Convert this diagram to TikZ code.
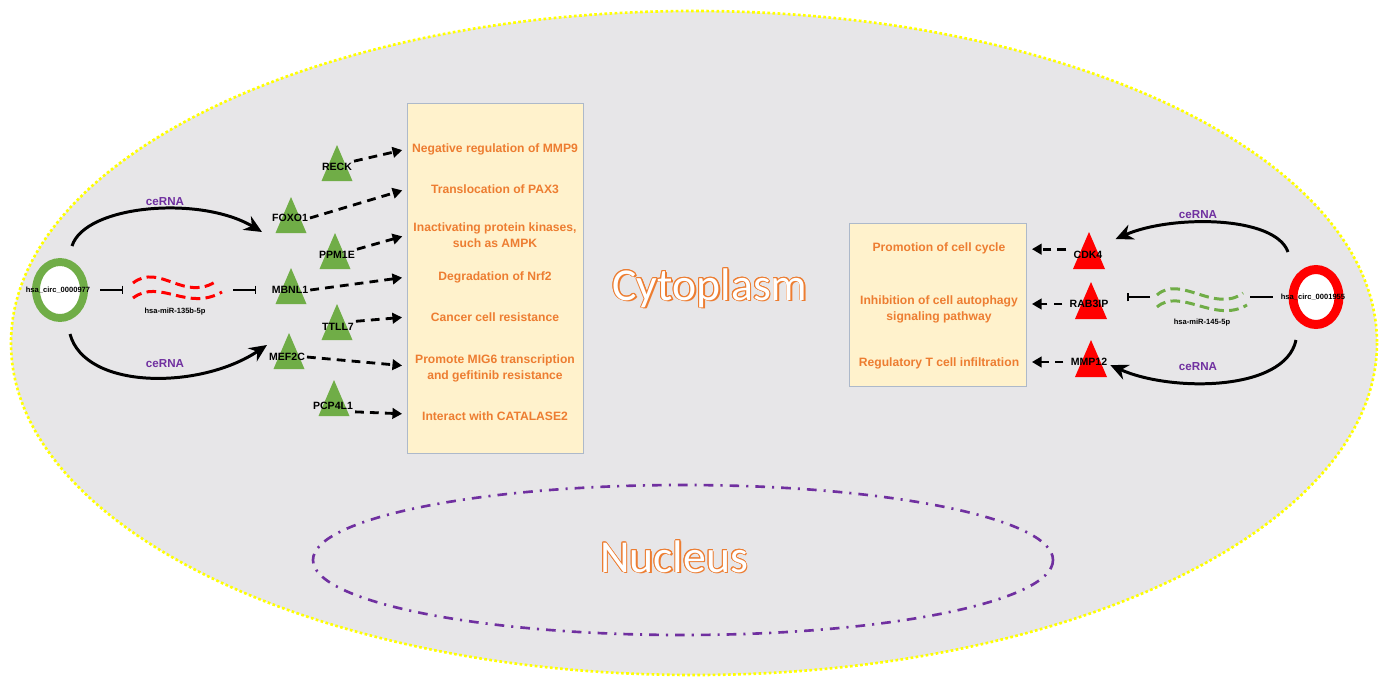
\documentclass[tikz,border=0pt]{standalone}
\usepackage{fontspec}
\setmainfont{Liberation Sans}
\newfontfamily\calibrifont{Carlito}
\usetikzlibrary{arrows.meta, calc, shapes.geometric}

\definecolor{cellgray}{HTML}{E7E6E8}
\definecolor{walldot}{HTML}{FFFF00}
\definecolor{nucviolet}{HTML}{7030A0}
\definecolor{boxfill}{HTML}{FFF2CC}
\definecolor{boxedge}{HTML}{ADB9CA}
\definecolor{fnorange}{HTML}{ED7D31}
\definecolor{genegreen}{HTML}{70AD47}
\definecolor{genered}{HTML}{FF0000}

\tikzset{
  gene/.style={font=\fontsize{6}{7}\selectfont\bfseries, inner sep=1pt},
  tinylbl/.style={font=\fontsize{4.3}{5}\selectfont\bfseries, inner sep=1pt},
  fn/.style={text=fnorange, font=\fontsize{6.9}{9}\selectfont\bfseries, align=center},
  fnbox/.style={draw=boxedge, fill=boxfill, line width=0.6pt, inner sep=0pt},
  fx/.style={line width=1.6pt, dash pattern=on 5pt off 3.5pt, -{Triangle[length=5.5pt,width=6pt]}},
  cerna/.style={text=nucviolet, font=\fontsize{6.6}{8}\selectfont\bfseries},
  link/.style={line width=1.7pt, -{Stealth[length=10pt,width=9pt]}},
  inhib/.style={line width=0.6pt, -{Bar[width=5pt]}},
  mirna/.style={line width=1.7pt, dash pattern=on 5.5pt off 3pt},
  ring/.style={ellipse, fill=white, inner sep=0pt},
  biglbl/.style={font=\calibrifont\fontsize{26}{30}\selectfont, anchor=base, inner sep=0pt}
}

\begin{document}
\begin{tikzpicture}[x=0.02cm, y=-0.02cm]
\useasboundingbox (0,0) rectangle (1384,677);

% cell and nucleus
\fill[cellgray] (694,343) ellipse [x radius=683, y radius=332];
\draw[walldot, line width=1.5pt, dash pattern=on 1.5pt off 1.4pt] (694,343) ellipse [x radius=683, y radius=332];
\draw[nucviolet, line width=1.5pt, dash pattern=on 5.5pt off 4pt on 1.2pt off 4pt] (683,560) ellipse [x radius=370, y radius=75];

% big labels
\foreach \a in {0,30,...,330} {
  \node[biglbl, text=fnorange] at ($(710,300)+(\a:0.9)$) {Cytoplasm};
  \node[biglbl, text=fnorange] at ($(674,572)+(\a:0.9)$) {Nucleus};
}
\node[biglbl, text=fnorange] at (711.5,301.5) {Cytoplasm};
\node[biglbl, text=fnorange] at (675.5,573.5) {Nucleus};
\node[biglbl, text=white] (cyto) at (710,300) {Cytoplasm};
\node[biglbl, text=white] (nucl) at (674,572) {Nucleus};

% function boxes
\node[fnbox, anchor=north west, minimum width=3.52cm, minimum height=7cm] (lbox) at (407,103) {};
\node[fnbox, anchor=north west, minimum width=3.54cm, minimum height=3.26cm] (rbox) at (849,223) {};

\node[fn] (f1) at (495,149) {Negative regulation of MMP9};
\node[fn] (f2) at (495,189) {Translocation of PAX3};
\node[fn] (f3) at (495,235) {Inactivating protein kinases,\\ such as AMPK};
\node[fn] (f4) at (495,277) {Degradation of Nrf2};
\node[fn] (f5) at (495,317) {Cancer cell resistance};
\node[fn] (f6) at (495,368) {Promote MIG6 transcription\\ and gefitinib resistance};
\node[fn] (f7) at (495,416) {Interact with CATALASE2};

\node[fn] (g1) at (939,248) {Promotion of cell cycle};
\node[fn] (g2) at (939,309) {Inhibition of cell autophagy\\ signaling pathway};
\node[fn] (g3) at (939,363) {Regulatory T cell infiltration};

% target genes
\foreach \nm/\lbl/\ax/\ay/\lx/\ly in {reck/RECK/337/145/337/167, foxo1/FOXO1/291/197/290/218,
    ppm1e/PPM1E/335/233/337/255, mbnl1/MBNL1/291/268/290/290, ttll7/TTLL7/337/304/338/327,
    mef2c/MEF2C/289/333/287/357, pcp4l1/PCP4L1/334/380/333/406} {
  \fill[genegreen] (\ax,\ay) -- ++(-15.5,36) -- ++(31,0) -- cycle;
  \node[gene] (\nm) at (\lx,\ly) {\lbl};
}
\foreach \nm/\lbl/\ax/\ay/\lx/\ly in {cdk4/CDK4/1089/232/1088/255,
    rab3ip/RAB3IP/1091/282/1089/304, mmp12/MMP12/1091/340/1089/362} {
  \fill[genered] (\ax,\ay) -- ++(-16,37) -- ++(32,0) -- cycle;
  \node[gene] (\nm) at (\lx,\ly) {\lbl};
}

% circRNAs
\node[ring, draw=genegreen, line width=4.5pt, minimum width=0.96cm, minimum height=1.12cm] (circL) at (60,290) {};
\node[tinylbl] (circLlab) at (58,290) {hsa\_circ\_0000977};
\node[ring, draw=genered, line width=5.1pt, minimum width=0.92cm, minimum height=1.1cm] (circR) at (1316,297) {};
\node[tinylbl] (circRlab) at (1313,297) {hsa\_circ\_0001955};

% miRNAs
\draw[genered, mirna] (133,283) .. controls (160,262) and (185,304) .. (218,280);
\draw[genered, mirna] (133,298) .. controls (160,278) and (187,312) .. (222,292);
\node[tinylbl] (mirL) at (175,312) {hsa-miR-135b-5p};
\draw[genegreen, mirna] (1157,295) .. controls (1180,274) and (1215,314) .. (1243,293);
\draw[genegreen, mirna] (1157,307) .. controls (1180,287) and (1215,324) .. (1247,305);
\node[tinylbl] (mirR) at (1202,323) {hsa-miR-145-5p};

\coordinate (wL1) at (123,290);
\coordinate (wL2) at (233,290);
\coordinate (wR1) at (1150,297);
\coordinate (wR2) at (1250,297);
\draw[inhib, shorten <=4.5pt] (circLlab.east) -- (wL1);
\draw[inhib, shorten >=7.9pt] (wL2) -- (mbnl1.west);
\draw[inhib, shorten >=9.7pt] (wR1) -- (rab3ip.east |- wR1);
\draw[line width=0.6pt, shorten >=3.4pt] (wR2) -- (circRlab.west);

% ceRNA links
\draw[link] ($(circL)+(12,-44)$) .. controls (85,205) and (200,195) .. ($(foxo1.west)+(-8,14)$);
\draw[link] ($(circL)+(10,44)$) .. controls (85,390) and (200,390) .. ($(mef2c.west)+(0,-12)$);
\draw[link] ($(circR)+(-28,-45)$) .. controls (1275,215) and (1170,215) .. ($(cdk4.north east)+(11,-10)$);
\draw[link] ($(circR)+(-20,43)$) .. controls (1285,392) and (1170,392) .. ($(mmp12.east)+(1,3)$);
\node[cerna] at (165,202) {ceRNA};
\node[cerna] at (165,364) {ceRNA};
\node[cerna] at (1198,215) {ceRNA};
\node[cerna] at (1198,367) {ceRNA};

% functions
\draw[fx, shorten >=2.8pt] (reck.north east) -- (lbox.west |- f1);
\draw[fx, shorten >=2.8pt] (foxo1.east) -- (lbox.west |- f2);
\draw[fx, shorten >=2.8pt] (ppm1e.north east) -- (lbox.west |- f3);
\draw[fx, shorten >=2.8pt] (mbnl1.east) -- (lbox.west |- f4);
\draw[fx, shorten >=2.8pt] (ttll7.north east) -- (lbox.west |- f5);
\draw[fx, shorten >=2.8pt] (mef2c.east) -- ($(lbox.west |- f6)+(0,-2)$);
\draw[fx, shorten >=2.8pt] (pcp4l1.south east) -- ($(lbox.west |- f7)+(0,-2)$);
\draw[fx, shorten >=2.8pt, shorten <=3pt] (cdk4.north west) -- (cdk4.north west -| rbox.east);
\draw[fx, shorten >=2.8pt, shorten <=3pt] (rab3ip.west) -- (rab3ip.west -| rbox.east);
\draw[fx, shorten >=2.8pt, shorten <=3pt] (mmp12.west) -- (mmp12.west -| rbox.east);
\end{tikzpicture}
\end{document}
